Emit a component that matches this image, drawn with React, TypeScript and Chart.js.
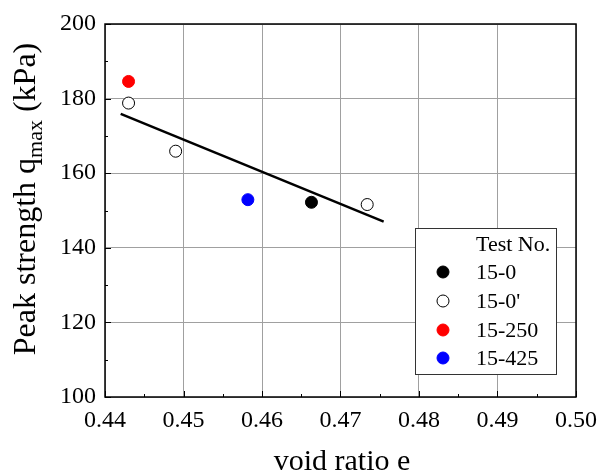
import { useEffect, useRef } from "react";
import { Chart, registerables } from "chart.js";

Chart.register(...registerables);

// ---- data ----
const series15_0 = [{ x: 0.4663, y: 152.2 }];
const series15_0p = [
  { x: 0.443, y: 178.8 },
  { x: 0.449, y: 165.9 },
  { x: 0.4734, y: 151.6 },
];
const series15_250 = [{ x: 0.443, y: 184.6 }];
const series15_425 = [{ x: 0.4582, y: 152.9 }];
const fitLine = [
  { x: 0.442, y: 175.9 },
  { x: 0.4755, y: 147.0 },
];
const legendLabels = ["15-0", "15-0'", "15-250", "15-425"];
const legendTitle = "Test No.";
const xMajor = [0.44, 0.45, 0.46, 0.47, 0.48, 0.49, 0.5];
const xMinor = [0.445, 0.455, 0.465, 0.475, 0.485, 0.495];
const yMajor = [100, 120, 140, 160, 180, 200];
const yMinor = [110, 130, 150, 170, 190];
const xTitle = "void ratio e";
const yTitleMain = "Peak strength q";
const yTitleSub = "max";
const yTitleTail = " (kPa)";

const SERIF = '"Liberation Serif", "Times New Roman", serif';

const framePlugin = {
  id: "framePlugin",
  afterDraw(chart: any) {
    const { ctx, chartArea: a, scales } = chart;
    const xs = scales.x;
    const ys = scales.y;
    ctx.save();
    // ticks inward
    ctx.strokeStyle = "#000";
    ctx.lineWidth = 1;
    const tick = (v: number, len: number, axis: "x" | "y") => {
      ctx.beginPath();
      if (axis === "x") {
        const px = Math.round(xs.getPixelForValue(v)) + 0.5;
        ctx.moveTo(px, a.bottom);
        ctx.lineTo(px, a.bottom - len);
      } else {
        const py = Math.round(ys.getPixelForValue(v)) + 0.5;
        ctx.moveTo(a.left, py);
        ctx.lineTo(a.left + len, py);
      }
      ctx.stroke();
    };
    xMajor.forEach((v) => tick(v, 6, "x"));
    xMinor.forEach((v) => tick(v, 3, "x"));
    yMajor.forEach((v) => tick(v, 6, "y"));
    yMinor.forEach((v) => tick(v, 3, "y"));
    // frame
    ctx.lineWidth = 1.5;
    ctx.strokeRect(a.left, a.top, a.right - a.left, a.bottom - a.top);

    // legend
    const lx = 415, ly = 228, lw = 141, lh = 146;
    ctx.fillStyle = "#fff";
    ctx.fillRect(lx, ly, lw, lh);
    ctx.strokeStyle = "#333";
    ctx.lineWidth = 1;
    ctx.strokeRect(lx + 0.5, ly + 0.5, lw, lh);
    ctx.font = `22px ${SERIF}`;
    ctx.fillStyle = "#000";
    ctx.textBaseline = "middle";
    ctx.textAlign = "left";
    ctx.fillText(legendTitle, 476, 245);
    const ds = chart.data.datasets.slice(0, 4);
    const rowY = [272, 301, 330, 358];
    ds.forEach((d: any, i: number) => {
      ctx.beginPath();
      ctx.arc(443, rowY[i], 6, 0, Math.PI * 2);
      ctx.fillStyle = d.backgroundColor;
      ctx.fill();
      ctx.lineWidth = 1;
      ctx.strokeStyle = d.borderColor;
      ctx.stroke();
      ctx.fillStyle = "#000";
      ctx.fillText(legendLabels[i], 476, rowY[i] + 1);
    });

    // x title
    ctx.font = `30px ${SERIF}`;
    ctx.textAlign = "center";
    ctx.textBaseline = "alphabetic";
    ctx.fillText(xTitle, 342, 470);

    // y title (rotated, with subscript)
    const mainFont = `32px ${SERIF}`;
    const subFont = `22px ${SERIF}`;
    ctx.font = mainFont;
    const w1 = ctx.measureText(yTitleMain).width;
    const w3 = ctx.measureText(yTitleTail).width;
    ctx.font = subFont;
    const w2 = ctx.measureText(yTitleSub).width;
    const total = w1 + w2 + w3;
    ctx.translate(35, 199);
    ctx.rotate(-Math.PI / 2);
    ctx.textAlign = "left";
    let cx = -total / 2;
    ctx.font = mainFont;
    ctx.fillText(yTitleMain, cx, 0);
    cx += w1;
    ctx.font = subFont;
    ctx.fillText(yTitleSub, cx, 7);
    cx += w2;
    ctx.font = mainFont;
    ctx.fillText(yTitleTail, cx, 0);
    ctx.restore();
  },
};

export default function App() {
  const ref = useRef<HTMLCanvasElement | null>(null);
  useEffect(() => {
    if (!ref.current) return;
    const chart = new Chart(ref.current, {
      type: "scatter",
      data: {
        datasets: [
          {
            label: legendLabels[0],
            data: series15_0,
            backgroundColor: "#000",
            borderColor: "#000",
            pointRadius: 6,
            pointBorderWidth: 1,
          },
          {
            label: legendLabels[1],
            data: series15_0p,
            backgroundColor: "#fff",
            borderColor: "#000",
            pointRadius: 6,
            pointBorderWidth: 1,
          },
          {
            label: legendLabels[2],
            data: series15_250,
            backgroundColor: "#ff0000",
            borderColor: "#ff0000",
            pointRadius: 6,
            pointBorderWidth: 1,
          },
          {
            label: legendLabels[3],
            data: series15_425,
            backgroundColor: "#0000ff",
            borderColor: "#0000ff",
            pointRadius: 6,
            pointBorderWidth: 1,
          },
          {
            type: "line",
            label: "fit",
            data: fitLine,
            borderColor: "#000",
            borderWidth: 2.5,
            pointRadius: 0,
            showLine: true,
            fill: false,
          } as any,
        ],
      },
      options: {
        responsive: false,
        animation: false,
        layout: { padding: { left: 0, right: 34, top: 24, bottom: 0 } },
        plugins: {
          legend: { display: false },
          tooltip: { enabled: false },
        },
        scales: {
          x: {
            type: "linear",
            min: 0.44,
            max: 0.5,
            afterFit: (s: any) => {
              s.height = 76;
            },
            afterBuildTicks: (s: any) => {
              s.ticks = xMajor.map((v) => ({ value: v }));
            },
            ticks: {
              font: { family: SERIF, size: 24 },
              color: "#000",
              padding: 9,
              maxRotation: 0,
              callback: (v: any) => Number(v).toFixed(2),
            },
            grid: { color: "#a0a0a0", drawTicks: false, lineWidth: 1 },
            border: { display: false },
          },
          y: {
            type: "linear",
            min: 100,
            max: 200,
            afterFit: (s: any) => {
              s.width = 105;
            },
            afterBuildTicks: (s: any) => {
              s.ticks = yMajor.map((v) => ({ value: v }));
            },
            ticks: {
              font: { family: SERIF, size: 24 },
              color: "#000",
              padding: 9,
              callback: (v: any) => String(v),
            },
            grid: { color: "#a0a0a0", drawTicks: false, lineWidth: 1 },
            border: { display: false },
          },
        },
      },
      plugins: [framePlugin],
    });
    return () => chart.destroy();
  }, []);
  return (
    <div style={{ position: "fixed", left: 0, top: 0, width: 610, height: 473, background: "#fff" }}>
      <canvas ref={ref} width={610} height={473} style={{ width: 610, height: 473 }} />
    </div>
  );
}
